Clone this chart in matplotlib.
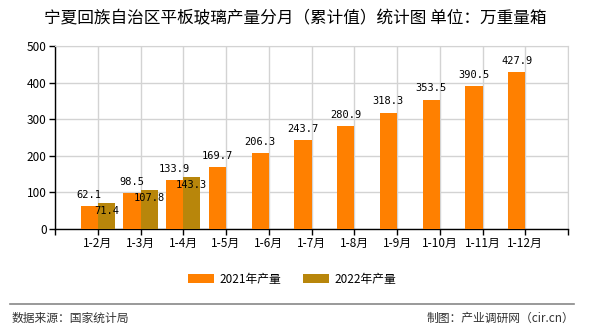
import matplotlib
matplotlib.use("Agg")
import matplotlib.pyplot as plt
from matplotlib.patches import Patch
from matplotlib.lines import Line2D
import numpy as np

plt.rcParams['font.family'] = ['Noto Sans CJK SC', 'DejaVu Sans']

categories = ["1-2月", "1-3月", "1-4月", "1-5月", "1-6月", "1-7月", "1-8月",
              "1-9月", "1-10月", "1-11月", "1-12月"]
values_2021 = [62.1, 98.5, 133.9, 169.7, 206.3, 243.7, 280.9, 318.3, 353.5, 390.5, 427.9]
values_2022 = [71.4, 107.8, 143.3]
series_names = ["2021年产量", "2022年产量"]
title = "宁夏回族自治区平板玻璃产量分月（累计值）统计图 单位：万重量箱"
yticks = [0, 100, 200, 300, 400, 500]

c2021 = "#FF8000"
c2022 = "#B8860B"

fig = plt.figure(figsize=(5.9, 3.3), dpi=100)
ax = fig.add_axes([55/590, 1-229/330, (568-55)/590, (229-46)/330])

x = np.arange(1, len(categories) + 1)
w = 0.4
ax.bar(x[:len(values_2021)] - w/2, values_2021, width=w, color=c2021, zorder=3)
x2 = x[:len(values_2022)]
ax.bar(x2 + w/2, values_2022, width=w, color=c2022, zorder=3)

for xi, v in zip(x, values_2021):
    ax.annotate(f"{v}", (xi - w/2, v), xytext=(0, 4.5), textcoords="offset points",
                ha="center", va="bottom", fontsize=7.5, family="DejaVu Sans Mono", zorder=5)
for xi, v in zip(x2, values_2022):
    ax.annotate(f"{v}", (xi + w/2, v), xytext=(0, -2.5), textcoords="offset points",
                ha="center", va="top", fontsize=7.5, family="DejaVu Sans Mono", zorder=5)

ax.set_xlim(0, len(categories) + 1)
ax.set_ylim(0, 500)
ax.set_xticks(np.arange(0, len(categories) + 2))
ax.set_xticklabels([""] + categories + [""], fontsize=8.5)
ax.set_yticks(yticks)
ax.set_yticklabels([str(t) for t in yticks], fontsize=8.5)
ax.tick_params(axis="both", length=4, width=1, color="black", pad=2)
ax.grid(True, color="#D3D3D3", linewidth=1, zorder=0)
ax.set_axisbelow(True)
for s in ["top", "right"]:
    ax.spines[s].set_color("#D3D3D3")
for s in ["left", "bottom"]:
    ax.spines[s].set_color("black")
    ax.spines[s].set_linewidth(1)

fig.text(0.5, 1-19/330, title, ha="center", va="center", fontsize=12)

handles = [Patch(facecolor=c2021), Patch(facecolor=c2022)]
fig.legend(handles, series_names, loc="center", bbox_to_anchor=(292/590, 1-279/330),
           ncol=2, frameon=False, fontsize=8.5, handlelength=2.2, handleheight=0.9,
           handletextpad=0.5, columnspacing=1.8)

fig.add_artist(Line2D([10/590, 574/590], [1-303.5/330, 1-303.5/330],
                      color="#888888", linewidth=1.2, transform=fig.transFigure))
fig.text(12/590, 1-318/330, "数据来源：国家统计局", ha="left", va="center", fontsize=8.5, color="#333333")
fig.text(574/590, 1-318/330, "制图：产业调研网（cir.cn）", ha="right", va="center", fontsize=8.5, color="#333333")

fig.savefig("out.png", dpi=100, facecolor="white")
